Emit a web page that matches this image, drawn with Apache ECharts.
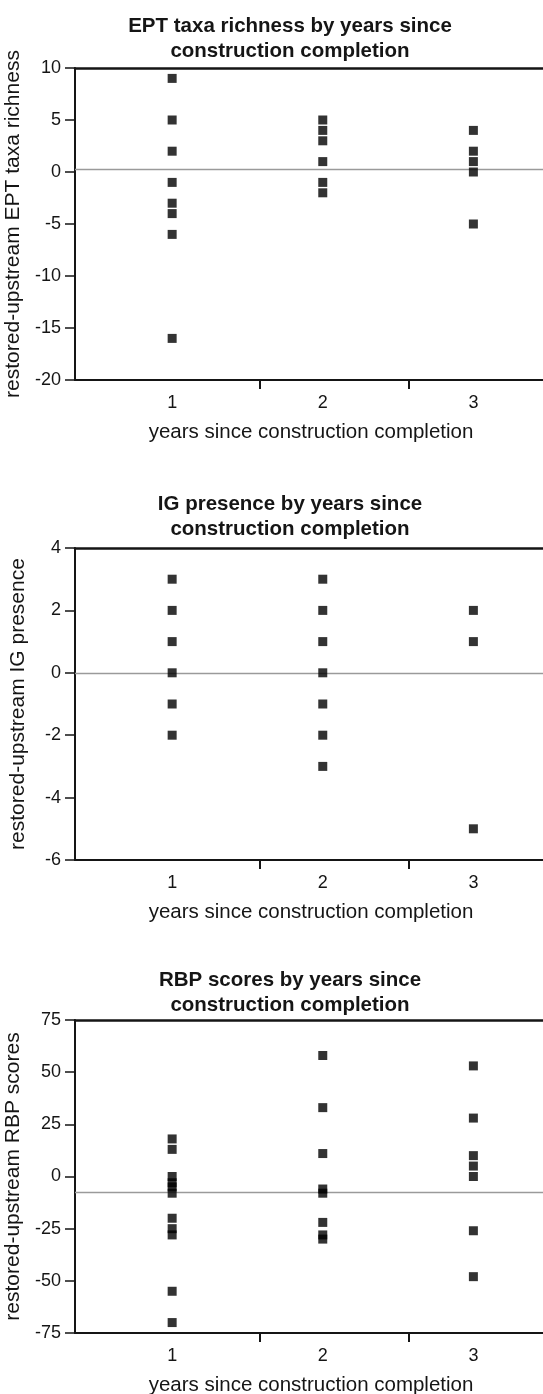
<!DOCTYPE html>
<html>
<head>
<meta charset="utf-8">
<script src="https://cdn.jsdelivr.net/npm/echarts@6/dist/echarts.min.js"></script>
<style>
  html, body { margin: 0; padding: 0; background: #fff; }
  #chart { width: 543px; height: 1394px; }
</style>
</head>
<body>
<div id="chart"></div>
<script>
// years since construction completion (x categories)
const years = [1, 2, 3];
// small tick marks on the x axis sit between the year columns
const xTickMarks = [1.58, 2.57];

// EPT taxa richness, restored minus upstream, per year
const eptYear1 = [9, 5, 2, -1, -3, -4, -6, -16];
const eptYear2 = [5, 4, 3, 1, -1, -2];
const eptYear3 = [4, 2, 1, 0, -5];
const eptTicks = { min: -20, max: 10, interval: 5 };
const eptRefLine = 0.3;

// IG presence, restored minus upstream, per year
const igYear1 = [3, 2, 1, 0, -1, -2];
const igYear2 = [3, 2, 1, 0, -1, -2, -3];
const igYear3 = [2, 1, -5];
const igTicks = { min: -6, max: 4, interval: 2 };
const igRefLine = 0;

// RBP scores, restored minus upstream, per year
const rbpYear1 = [18, 13, 0, -3, -5, -8, -20, -25, -28, -55, -70];
const rbpYear2 = [58, 33, 11, -6, -8, -22, -28, -30];
const rbpYear3 = [53, 28, 10, 5, 0, -26, -48];
const rbpTicks = { min: -75, max: 75, interval: 25 };
const rbpRefLine = -7.5;

const FONT = "'Liberation Sans', Arial, Helvetica, sans-serif";
const INK = "#151515";
const X_MIN = 0.355;
const X_MAX = 4;

function toPoints(perYear) {
  const pts = [];
  years.forEach((yr, i) => {
    perYear[i].forEach((v) => pts.push([yr, v]));
  });
  return pts;
}

const panels = [
  {
    title: "EPT taxa richness by years since\nconstruction completion",
    yName: "restored-upstream EPT taxa richness",
    ticks: eptTicks,
    ref: eptRefLine,
    data: toPoints([eptYear1, eptYear2, eptYear3]),
    top: 68, height: 312, titleTop: 9,
  },
  {
    title: "IG presence by years since\nconstruction completion",
    yName: "restored-upstream IG presence",
    ticks: igTicks,
    ref: igRefLine,
    data: toPoints([igYear1, igYear2, igYear3]),
    top: 548, height: 312, titleTop: 487,
  },
  {
    title: "RBP scores by years since\nconstruction completion",
    yName: "restored-upstream RBP scores",
    ticks: rbpTicks,
    ref: rbpRefLine,
    data: toPoints([rbpYear1, rbpYear2, rbpYear3]),
    top: 1020, height: 313, titleTop: 963,
  },
];

const chartDom = document.getElementById("chart");
const myChart = echarts.init(chartDom, null, { renderer: "canvas" });

const option = {
  animation: false,
  backgroundColor: "#fff",
  title: [],
  grid: [],
  xAxis: [],
  yAxis: [],
  series: [],
};

panels.forEach((p, i) => {
  // chart title (two bold lines)
  option.title.push({
    text: p.title,
    left: 285,
    top: p.titleTop,
    textAlign: "center",
    textStyle: {
      fontFamily: FONT, fontSize: 20.5, fontWeight: "bold",
      color: INK, lineHeight: 25,
    },
  });
  // x axis name, placed under the labels
  option.title.push({
    text: "years since construction completion",
    left: 306,
    top: p.top + p.height + 37,
    textAlign: "center",
    textStyle: { fontFamily: FONT, fontSize: 20.5, fontWeight: "normal", color: INK },
  });

  option.grid.push({
    left: 75,
    top: p.top,
    height: p.height,
    right: -81,
    outerBoundsMode: "none",
    containLabel: false,
  });

  // bottom axis with year labels
  option.xAxis.push({
    type: "value",
    gridIndex: i,
    position: "bottom",
    min: X_MIN,
    max: X_MAX,
    axisLine: { show: true, onZero: false, lineStyle: { color: INK, width: 2 } },
    axisTick: {
      show: true, customValues: xTickMarks, length: 9,
      lineStyle: { color: INK, width: 2 },
    },
    axisLabel: {
      customValues: years, margin: 14,
      fontFamily: FONT, fontSize: 18, color: INK,
    },
    splitLine: { show: false },
  });
  // top frame line
  option.xAxis.push({
    type: "value",
    gridIndex: i,
    position: "top",
    min: X_MIN,
    max: X_MAX,
    axisLine: { show: true, onZero: false, lineStyle: { color: INK, width: 2.5 } },
    axisTick: { show: false },
    axisLabel: { show: false },
    splitLine: { show: false },
  });

  option.yAxis.push({
    type: "value",
    gridIndex: i,
    min: p.ticks.min,
    max: p.ticks.max,
    interval: p.ticks.interval,
    axisLine: { show: true, onZero: false, lineStyle: { color: INK, width: 2 } },
    axisTick: { show: true, length: 10, lineStyle: { color: INK, width: 1.5 } },
    axisLabel: { margin: 14, fontFamily: FONT, fontSize: 18, color: INK },
    splitLine: { show: false },
    name: p.yName,
    nameLocation: "middle",
    nameRotate: 90,
    nameGap: 46,
    nameTextStyle: { fontFamily: FONT, fontSize: 21, color: INK },
  });

  option.series.push({
    type: "scatter",
    xAxisIndex: i * 2,
    yAxisIndex: i,
    symbol: "rect",
    symbolSize: 9,
    itemStyle: { color: "#000" },
    data: p.data,
    z: 3,
    markLine: {
      silent: true,
      symbol: ["none", "none"],
      label: { show: false },
      lineStyle: { color: "#9a9a9a", width: 1.3, type: "solid" },
      data: [{ yAxis: p.ref }],
      z: 1,
    },
  });
});

myChart.setOption(option);
window.addEventListener("resize", () => myChart.resize());
</script>
</body>
</html>
